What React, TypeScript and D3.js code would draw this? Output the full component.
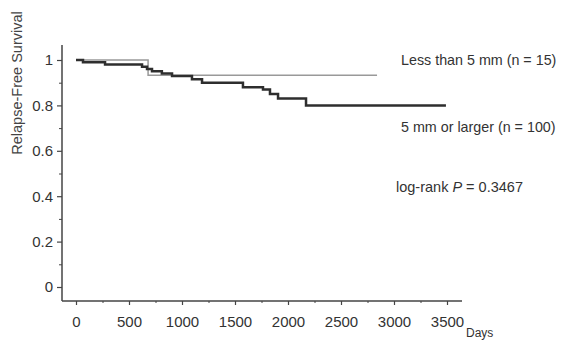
import React, { useRef, useEffect } from "react";
import * as d3 from "d3";

// Kaplan-Meier step data: [days, survival]
const smallTumor = [
  [0, 1],
  [680, 0.933],
  [2840, 0.933],
];

const largeTumor = [
  [0, 1],
  [66, 0.99],
  [274, 0.98],
  [623, 0.97],
  [670, 0.96],
  [717, 0.95],
  [810, 0.94],
  [906, 0.93],
  [1094, 0.915],
  [1189, 0.9],
  [1575, 0.88],
  [1764, 0.87],
  [1830, 0.85],
  [1906, 0.83],
  [2170, 0.8],
  [3490, 0.8],
];

const xTicks = [0, 500, 1000, 1500, 2000, 2500, 3000, 3500];
const xMinor = [250, 750, 1250, 1750, 2250, 2750, 3250];
const yTicks = [0, 0.2, 0.4, 0.6, 0.8, 1];
const yMinor = [0.1, 0.3, 0.5, 0.7, 0.9];

const labels = {
  small: "Less than 5 mm (n = 15)",
  large: "5 mm or larger (n = 100)",
};

export default function App() {
  const svgRef = useRef(null);

  useEffect(() => {
    const svg = d3.select(svgRef.current);
    svg.selectAll("*").remove();

    const x = d3.scaleLinear().domain([0, 3500]).range([76, 447]);
    const y = d3.scaleLinear().domain([0, 1]).range([287, 60]);
    const axisColor = "#444";
    const font = "Liberation Sans, Arial, sans-serif";

    // axis lines
    svg.append("line")
      .attr("x1", 62).attr("x2", 62)
      .attr("y1", 45).attr("y2", 301)
      .attr("stroke", axisColor).attr("stroke-width", 1.5);
    svg.append("line")
      .attr("x1", 62).attr("x2", 462)
      .attr("y1", 301).attr("y2", 301)
      .attr("stroke", axisColor).attr("stroke-width", 1.5);

    // y axis
    const yAxis = svg.append("g").attr("transform", "translate(62,0)")
      .call(d3.axisLeft(y).tickValues(yTicks).tickSize(5).tickPadding(4)
        .tickFormat((d) => (d === 0 || d === 1 ? d3.format("d")(d) : d3.format(".1f")(d))));
    yAxis.select(".domain").remove();
    yAxis.selectAll("line").attr("stroke", axisColor).attr("stroke-width", 1.2);
    yAxis.selectAll("text").attr("font-size", 15).attr("font-family", font).attr("fill", "#333");
    const yMin = svg.append("g").attr("transform", "translate(62,0)")
      .call(d3.axisLeft(y).tickValues(yMinor).tickSize(3).tickFormat(() => ""));
    yMin.select(".domain").remove();
    yMin.selectAll("line").attr("stroke", axisColor);

    // x axis
    const xAxis = svg.append("g").attr("transform", "translate(0,301)")
      .call(d3.axisBottom(x).tickValues(xTicks).tickSize(4).tickPadding(11)
        .tickFormat(d3.format("d")));
    xAxis.select(".domain").remove();
    xAxis.selectAll("line").attr("stroke", axisColor).attr("stroke-width", 1.2);
    xAxis.selectAll("text").attr("font-size", 15).attr("font-family", font).attr("fill", "#333");
    const xMin = svg.append("g").attr("transform", "translate(0,301)")
      .call(d3.axisBottom(x).tickValues(xMinor).tickSize(2).tickFormat(() => ""));
    xMin.select(".domain").remove();
    xMin.selectAll("line").attr("stroke", axisColor);

    // curves
    const line = d3.line()
      .x((d) => x(d[0]))
      .y((d) => y(d[1]))
      .curve(d3.curveStepAfter);

    svg.append("path").datum(smallTumor)
      .attr("d", line).attr("fill", "none")
      .attr("stroke", "#999").attr("stroke-width", 1.5);
    svg.append("path").datum(largeTumor)
      .attr("d", line).attr("fill", "none")
      .attr("stroke", "#2e2e2e").attr("stroke-width", 2.5);

    // labels
    svg.append("text")
      .attr("transform", "translate(22,83) rotate(-90)")
      .attr("text-anchor", "middle")
      .attr("font-size", 14.5).attr("font-family", font).attr("fill", "#444")
      .text("Relapse-Free Survival");

    svg.append("text")
      .attr("x", 466).attr("y", 337)
      .attr("font-size", 12).attr("font-family", font).attr("fill", "#333")
      .text("Days");

    svg.append("text")
      .attr("x", 401).attr("y", 65)
      .attr("font-size", 14.3).attr("font-family", font).attr("fill", "#333")
      .text(labels.small);
    svg.append("text")
      .attr("x", 401).attr("y", 132)
      .attr("font-size", 14.3).attr("font-family", font).attr("fill", "#333")
      .text(labels.large);

    const pv = svg.append("text")
      .attr("x", 396).attr("y", 192)
      .attr("font-size", 14.5).attr("font-family", font).attr("fill", "#333");
    pv.append("tspan").text("log-rank ");
    pv.append("tspan").attr("font-style", "italic").text("P");
    pv.append("tspan").text(" = 0.3467");
  }, []);

  return (
    <svg
      ref={svgRef}
      width={561}
      height={341}
      style={{ position: "absolute", left: 0, top: 0, background: "#fff" }}
    />
  );
}
